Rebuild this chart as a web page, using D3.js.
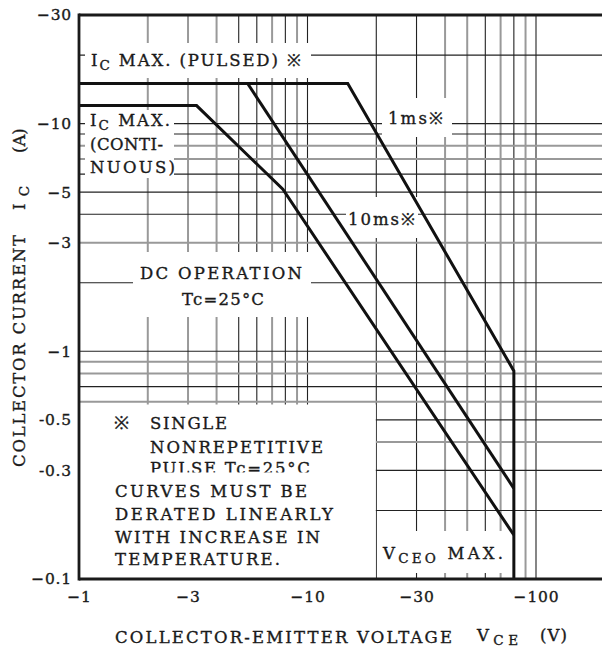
<!DOCTYPE html>
<html><head><meta charset="utf-8">
<script src="https://cdn.jsdelivr.net/npm/d3@7/dist/d3.min.js"></script>
<style>
html,body{margin:0;padding:0;background:#fff;}
svg{display:block;}
text{font-family:"DejaVu Serif",serif;fill:#1a1a1a;stroke:#1a1a1a;stroke-width:0.35px;}
</style></head><body>
<svg id="chart" width="602" height="650"></svg>
<script>
// ---------- data ----------
const xTickValues = [-1, -3, -10, -30, -100];
const xTickLabels = ["−1", "−3", "−10", "−30", "−100"];
const yTickValues = [-30, -10, -5, -3, -1, -0.5, -0.3, -0.1];
const yTickLabels = ["−30", "−10", "−5", "−3", "−1", "-0.5", "-0.3", "−0.1"];
const xGridValues = [-2,-3,-4,-5,-6,-7,-8,-9,-10,-20,-30,-40,-50,-60,-70,-80,-90,-100];
const yGridValues = [-20,-10,-9,-8,-7,-6,-5,-4,-3,-2,-1,-0.9,-0.8,-0.7,-0.6,-0.5,-0.4,-0.3,-0.2];
// curves: [VCE (V), IC (A)]
const dcOperation = [[-1, -12], [-3.27, -12], [-7.8, -5.15], [-80, -0.156]];
const pulse10ms   = [[-5.47, -15], [-80, -0.25]];
const pulse1ms    = [[-1, -15], [-15, -15], [-80, -0.82], [-80, -0.1]];

// ---------- layout ----------
const L = 79, T = 15, B = 579, R = 602;
const svg = d3.select('#chart');
const x = d3.scaleLog().domain([-1, -200]).range([L, L + 228.5 * Math.log10(200)]);
const y = d3.scaleLog().domain([-0.1, -30]).range([B, T]);

// grid (scanned look: some lines lighter/thicker)
const lightX = new Set([-2,-3,-4,-7,-9,-40,-50,-70,-90]);
const lightY = new Set([-8,-7,-3,-0.9,-0.8,-0.6,-0.4]);
const grid = svg.append('g');
grid.selectAll('line.v').data(xGridValues).join('line')
  .attr('x1', d => x(d)).attr('x2', d => x(d)).attr('y1', T).attr('y2', B)
  .attr('stroke', d => lightX.has(d) ? '#999' : '#222')
  .attr('stroke-width', d => lightX.has(d) ? 2 : 1.1);
grid.selectAll('line.h').data(yGridValues).join('line')
  .attr('y1', d => y(d)).attr('y2', d => y(d)).attr('x1', L).attr('x2', R)
  .attr('stroke', d => lightY.has(d) ? '#999' : '#222')
  .attr('stroke-width', d => lightY.has(d) ? 2 : 1.1);

// white label backgrounds breaking the grid
const boxes = [
  [85, 43, 226, 35],      // IC MAX (PULSED)
  [85, 110, 89, 68],      // IC MAX (CONTINUOUS)
  [133, 252, 178, 65],    // DC OPERATION
  [382, 98, 70, 39],      // 1ms
  [346, 197, 72, 41],     // 10ms
  [80, 404.5, x(-20) - 80.5, B - 405], // note
  [378, 531, 130, 42]     // VCEO MAX
];
svg.append('g').selectAll('rect').data(boxes).join('rect')
  .attr('x', d => d[0]).attr('y', d => d[1]).attr('width', d => d[2]).attr('height', d => d[3])
  .attr('fill', '#fff');

// curves
const line = d3.line().x(d => x(d[0])).y(d => y(d[1]));
svg.append('g').selectAll('path').data([dcOperation, pulse10ms, pulse1ms]).join('path')
  .attr('d', line).attr('fill', 'none').attr('stroke', '#111')
  .attr('stroke-width', 3).attr('stroke-linejoin', 'miter');

// frame
const frame = svg.append('g').attr('stroke', '#1a1a1a').attr('stroke-width', 2.8);
frame.append('line').attr('x1', L).attr('x2', R).attr('y1', T).attr('y2', T);
frame.append('line').attr('x1', L).attr('x2', R).attr('y1', B).attr('y2', B);
frame.append('line').attr('x1', L).attr('x2', L).attr('y1', T - 1.4).attr('y2', B + 1.4);

// axes
const ya = svg.append('g').attr('transform', `translate(${L},0)`)
  .call(d3.axisLeft(y).tickValues(yTickValues).tickFormat((d, i) => yTickLabels[i]).tickSize(0).tickPadding(7));
ya.select('.domain').remove();
ya.selectAll('text').attr('font-family', '"DejaVu Serif",serif').attr('font-size', 15.5)
  .attr('fill', '#1a1a1a').attr('letter-spacing', 0.8);
const xa = svg.append('g').attr('transform', `translate(0,${B})`)
  .call(d3.axisBottom(x).tickValues(xTickValues).tickFormat((d, i) => xTickLabels[i]).tickSize(0).tickPadding(12));
xa.select('.domain').remove();
xa.selectAll('text').attr('font-family', '"DejaVu Serif",serif').attr('font-size', 15.5)
  .attr('fill', '#1a1a1a').attr('letter-spacing', 0.8);

// text helpers
function fit(t, w) {
  t.attr('letter-spacing', 0);
  const n = t.text().length;
  const len = t.node().getComputedTextLength();
  if (n > 1) t.attr('letter-spacing', Math.max(0, (w - len) / (n - 1)));
}
function addText(parent, tx, ty, parts, w, size = 16.5) {
  const t = parent.append('text').attr('x', tx).attr('y', ty).attr('font-size', size);
  let sub = false;
  parts.forEach(p => {
    const isSub = p.startsWith('_');
    const ts = t.append('tspan').text(isSub ? p.slice(1) : p);
    if (isSub && !sub) { ts.attr('dy', 4).attr('font-size', size * 0.82); sub = true; }
    else if (!isSub && sub) { ts.attr('dy', -4); sub = false; }
  });
  if (w) fit(t, w);
  return t;
}

const tg = svg.append('g');
addText(tg, 91, 66, ['I', '_C', ' MAX. (PULSED) ※'], 210);
addText(tg, 90, 126, ['I', '_C', ' MAX.'], 80);
addText(tg, 90, 150, ['(CONTI-'], 73);
addText(tg, 90, 173, ['NUOUS)'], 85);
addText(tg, 140, 279, ['DC OPERATION'], 162);
addText(tg, 182, 305, ['Tc=25°C'], 82);
addText(tg, 388, 124, ['1ms※'], 55);
addText(tg, 348, 225, ['10ms※'], 67);
addText(tg, 114, 429, ['※'], 0, 18);
addText(tg, 150, 429, ['SINGLE'], 77);
addText(tg, 150, 453, ['NONREPETITIVE'], 173);
addText(tg, 150, 474, ['PULSE Tc=25°C'], 160);
tg.append('rect').attr('x', 145).attr('y', 472.5).attr('width', 180).attr('height', 7).attr('fill', '#fff').attr('stroke', 'none');
addText(tg, 115, 497, ['CURVES MUST BE'], 192);
addText(tg, 115, 520, ['DERATED LINEARLY'], 218);
addText(tg, 115, 543, ['WITH INCREASE IN'], 205);
addText(tg, 115, 565, ['TEMPERATURE.'], 165);
addText(tg, 383, 559, ['V', '_CEO', ' MAX.'], 120);

// axis titles
addText(tg, 115, 643, ['COLLECTOR-EMITTER VOLTAGE'], 337);
addText(tg, 477, 641, ['V', '_CE'], 41);
addText(tg, 540, 641, ['(V)'], 27);
const yt = svg.append('g').attr('transform', 'translate(25,467) rotate(-90)');
addText(yt, 0, 0, ['COLLECTOR CURRENT'], 232);
addText(yt, 257, 0, ['I', '_C'], 24);
addText(yt, 314, 0, ['(A)'], 20);
</script>
</body></html>
